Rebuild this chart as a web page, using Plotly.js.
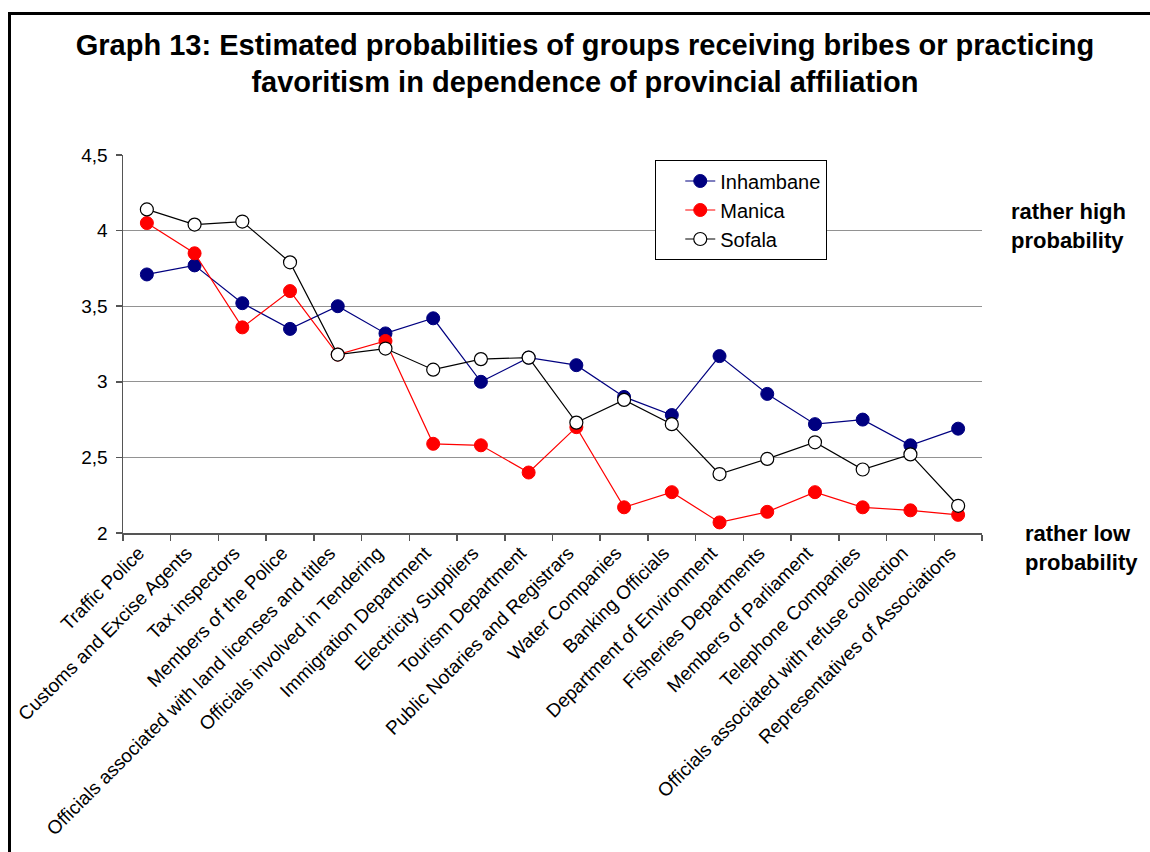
<!DOCTYPE html>
<html>
<head>
<meta charset="utf-8">
<script src="https://cdn.plot.ly/plotly-3.0.1.min.js"></script>
<style>
  html, body { margin: 0; padding: 0; background: #fff; }
  #wrap { position: relative; width: 1150px; height: 852px; overflow: hidden; }
  #chart { width: 1150px; height: 852px; }
  #frame { position: absolute; left: 8px; top: 12px; right: -10px; bottom: -10px;
           border-left: 3px solid #000; border-top: 3px solid #000; pointer-events: none; }
</style>
</head>
<body>
<div id="wrap">
  <div id="chart"></div>
  <div id="frame"></div>
</div>
<script>
const categories = [
  "Traffic Police",
  "Customs and Excise Agents",
  "Tax inspectors",
  "Members of the Police",
  "Officials associated with land licenses and titles",
  "Officials involved in Tendering",
  "Immigration Department",
  "Electricity Suppliers",
  "Tourism Department",
  "Public Notaries and Registrars",
  "Water Companies",
  "Banking Officials",
  "Department of Environment",
  "Fisheries Departments",
  "Members of Parliament",
  "Telephone Companies",
  "Officials associated with refuse collection",
  "Representatives of Associations"
];
const inhambane = [3.71, 3.77, 3.52, 3.35, 3.50, 3.32, 3.42, 3.00, 3.16, 3.11, 2.90, 2.78, 3.17, 2.92, 2.72, 2.75, 2.58, 2.69];
const manica    = [4.05, 3.85, 3.36, 3.60, 3.18, 3.27, 2.59, 2.58, 2.40, 2.70, 2.17, 2.27, 2.07, 2.14, 2.27, 2.17, 2.15, 2.12];
const sofala    = [4.14, 4.04, 4.06, 3.79, 3.18, 3.22, 3.08, 3.15, 3.16, 2.73, 2.88, 2.72, 2.39, 2.49, 2.60, 2.42, 2.52, 2.18];
const seriesNames = ["Inhambane", "Manica", "Sofala"];
const yTicks = [2, 2.5, 3, 3.5, 4, 4.5];

const FONT = "'Liberation Sans', Arial, sans-serif";

const traces = [
  {
    x: categories, y: inhambane, name: seriesNames[0], type: "scatter", mode: "lines+markers",
    line: { color: "#000080", width: 1.2 },
    marker: { color: "#000080", size: 13, line: { color: "#000080", width: 1 } }
  },
  {
    x: categories, y: manica, name: seriesNames[1], type: "scatter", mode: "lines+markers",
    line: { color: "#FF0000", width: 1.2 },
    marker: { color: "#FF0000", size: 13, line: { color: "#FF0000", width: 1 } }
  },
  {
    x: categories, y: sofala, name: seriesNames[2], type: "scatter", mode: "lines+markers",
    line: { color: "#000000", width: 1.2 },
    marker: { color: "#FFFFFF", size: 13, line: { color: "#000000", width: 1.2 } }
  }
];

const layout = {
  width: 1150, height: 852,
  paper_bgcolor: "#fff", plot_bgcolor: "#fff",
  separators: ", ",
  margin: { l: 123, r: 168, t: 155, b: 319, pad: 0 },
  font: { family: FONT, color: "#000" },
  title: {
    text: "Graph 13: Estimated probabilities of groups receiving bribes or practicing<br>favoritism in dependence of provincial affiliation",
    font: { family: FONT, size: 29, color: "#000", weight: "bold" },
    xref: "container", yref: "container", x: 0.5087, xanchor: "center",
    y: 0.936, yanchor: "top"
  },
  xaxis: {
    type: "category",
    categoryorder: "array", categoryarray: categories,
    range: [-0.5, 17.5], autorange: false,
    showgrid: false, zeroline: false,
    showline: true, linecolor: "#555", linewidth: 1.5,
    ticks: "outside", ticklen: 6, tickcolor: "#555", tickwidth: 1.5,
    tickson: "boundaries",
    tickangle: -45,
    tickfont: { family: FONT, size: 19, color: "#000" },
    ticklabelshift: -8,
    ticklabelstandoff: 0,
    automargin: false
  },
  yaxis: {
    range: [2, 4.5], autorange: false, tickvals: yTicks,
    showgrid: true, gridcolor: "#929292", gridwidth: 1,
    zeroline: false,
    showline: true, linecolor: "#555", linewidth: 1.5,
    ticks: "outside", ticklen: 6, tickcolor: "#555", tickwidth: 1.5,
    tickfont: { family: FONT, size: 19, color: "#000" },
    ticklabelstandoff: 4,
    automargin: false
  },
  legend: {
    x: 0.6194, y: 0.986, xanchor: "left", yanchor: "top",
    bgcolor: "#fff", bordercolor: "#000", borderwidth: 1.2,
    font: { family: FONT, size: 20, color: "#000" },
    tracegroupgap: 0, indentation: 24,
    entrywidth: 150, entrywidthmode: "pixels"
  },
  showlegend: true,
  annotations: [
    {
      xref: "paper", yref: "paper", x: 1.0318, y: 0.8117, xanchor: "left", yanchor: "middle",
      text: "rather high<br>probability", showarrow: false, align: "left",
      font: { family: FONT, size: 22, color: "#000", weight: "bold" }
    },
    {
      xref: "paper", yref: "paper", x: 1.048, y: -0.04, xanchor: "left", yanchor: "middle",
      text: "rather low<br>probability", showarrow: false, align: "left",
      font: { family: FONT, size: 22, color: "#000", weight: "bold" }
    }
  ]
};

Plotly.newPlot("chart", traces, layout, { displayModeBar: false, staticPlot: true });
</script>
</body>
</html>
